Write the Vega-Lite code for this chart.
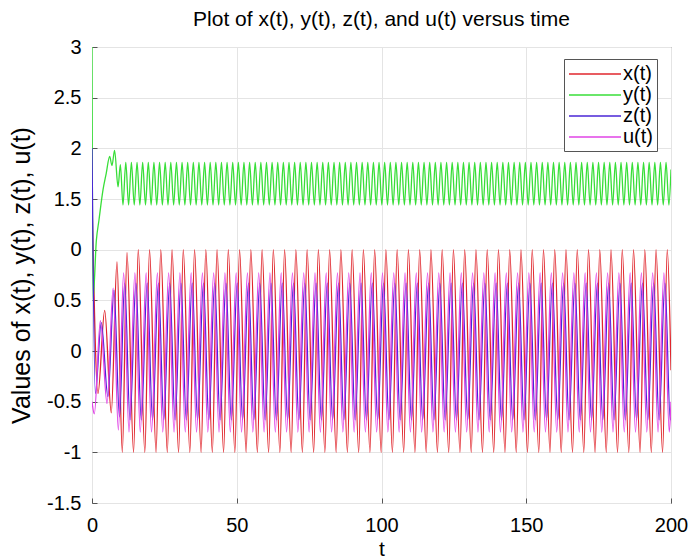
{
  "$schema": "https://vega.github.io/schema/vega-lite/v6.json",
  "width": 579,
  "height": 456,
  "autosize": {"type": "none"},
  "padding": {"left": 92, "top": 47, "right": 17, "bottom": 55},
  "background": "white",
  "config": {"font": "Liberation Sans", "view": {"stroke": "#555555", "strokeWidth": 1}},
  "title": {"text": "Plot of x(t), y(t), z(t), and u(t) versus time", "fontSize": 21, "fontWeight": "normal", "color": "#000000", "offset": 7, "anchor": "middle"},
  "datasets": {
    "xs": [{"t":0,"v":1.5},{"t":2.07,"v":-0.42},{"t":4.38,"v":0.4},{"t":6.66,"v":-0.61},{"t":8.63,"v":0.88},
      {"t":10.47,"v":-1},{"t":12.09,"v":0.97},{"t":14.36,"v":-1},{"t":15.98,"v":1},{"t":18.25,"v":-1},{"t":19.87,"v":1},{"t":22.13,"v":-1},{"t":23.75,"v":1},{"t":26.02,"v":-1},{"t":27.64,"v":1},{"t":29.91,"v":-1},{"t":31.53,"v":1},{"t":33.8,"v":-1},{"t":35.42,"v":1},{"t":37.69,"v":-1},{"t":39.31,"v":1},{"t":41.57,"v":-1},{"t":43.19,"v":1},{"t":45.46,"v":-1},{"t":47.08,"v":1},{"t":49.35,"v":-1},{"t":50.97,"v":1},{"t":53.24,"v":-1},{"t":54.86,"v":1},{"t":57.13,"v":-1},{"t":58.75,"v":1},{"t":61.01,"v":-1},{"t":62.63,"v":1},{"t":64.9,"v":-1},{"t":66.52,"v":1},{"t":68.79,"v":-1},{"t":70.41,"v":1},{"t":72.68,"v":-1},{"t":74.3,"v":1},{"t":76.57,"v":-1},{"t":78.19,"v":1},{"t":80.45,"v":-1},{"t":82.07,"v":1},{"t":84.34,"v":-1},{"t":85.96,"v":1},{"t":88.23,"v":-1},{"t":89.85,"v":1},{"t":92.12,"v":-1},{"t":93.74,"v":1},{"t":96.01,"v":-1},{"t":97.63,"v":1},{"t":99.89,"v":-1},{"t":101.51,"v":1},{"t":103.78,"v":-1},{"t":105.4,"v":1},{"t":107.67,"v":-1},{"t":109.29,"v":1},{"t":111.56,"v":-1},{"t":113.18,"v":1},{"t":115.45,"v":-1},{"t":117.07,"v":1},{"t":119.33,"v":-1},{"t":120.95,"v":1},{"t":123.22,"v":-1},{"t":124.84,"v":1},{"t":127.11,"v":-1},{"t":128.73,"v":1},{"t":131.0,"v":-1},{"t":132.62,"v":1},{"t":134.89,"v":-1},{"t":136.51,"v":1},{"t":138.77,"v":-1},{"t":140.39,"v":1},{"t":142.66,"v":-1},{"t":144.28,"v":1},{"t":146.55,"v":-1},{"t":148.17,"v":1},{"t":150.44,"v":-1},{"t":152.06,"v":1},{"t":154.33,"v":-1},{"t":155.95,"v":1},{"t":158.21,"v":-1},{"t":159.83,"v":1},{"t":162.1,"v":-1},{"t":163.72,"v":1},{"t":165.99,"v":-1},{"t":167.61,"v":1},{"t":169.88,"v":-1},{"t":171.5,"v":1},{"t":173.77,"v":-1},{"t":175.39,"v":1},{"t":177.65,"v":-1},{"t":179.27,"v":1},{"t":181.54,"v":-1},{"t":183.16,"v":1},{"t":185.43,"v":-1},{"t":187.05,"v":1},{"t":189.32,"v":-1},{"t":190.94,"v":1},{"t":193.21,"v":-1},{"t":194.83,"v":1},{"t":197.09,"v":-1},{"t":198.71,"v":1},{"t":200,"v":-0.19}],
    "ys": [{"t":0,"v":3},{"t":0.35,"v":0.5},{"t":1.5,"v":1.09},{"t":2.4,"v":1.29},{"t":3.8,"v":1.59},{"t":4.9,"v":1.75},{"t":6.1,"v":1.92},{"t":6.9,"v":1.83},{"t":7.8,"v":1.98},{"t":9.0,"v":1.62},{"t":9.8,"v":1.84},
      {"t":10.7,"v":1.44},{"t":11.67,"v":1.86},{"t":12.64,"v":1.44},{"t":13.61,"v":1.86},{"t":14.59,"v":1.44},{"t":15.56,"v":1.86},{"t":16.53,"v":1.44},{"t":17.5,"v":1.86},{"t":18.48,"v":1.44},{"t":19.45,"v":1.86},{"t":20.42,"v":1.44},{"t":21.39,"v":1.86},{"t":22.36,"v":1.44},{"t":23.33,"v":1.86},{"t":24.31,"v":1.44},{"t":25.28,"v":1.86},{"t":26.25,"v":1.44},{"t":27.22,"v":1.86},{"t":28.2,"v":1.44},{"t":29.17,"v":1.86},{"t":30.14,"v":1.44},{"t":31.11,"v":1.86},{"t":32.08,"v":1.44},{"t":33.05,"v":1.86},{"t":34.03,"v":1.44},{"t":35.0,"v":1.86},{"t":35.97,"v":1.44},{"t":36.94,"v":1.86},{"t":37.92,"v":1.44},{"t":38.89,"v":1.86},{"t":39.86,"v":1.44},{"t":40.83,"v":1.86},{"t":41.8,"v":1.44},{"t":42.77,"v":1.86},{"t":43.75,"v":1.44},{"t":44.72,"v":1.86},{"t":45.69,"v":1.44},{"t":46.66,"v":1.86},{"t":47.64,"v":1.44},{"t":48.61,"v":1.86},{"t":49.58,"v":1.44},{"t":50.55,"v":1.86},{"t":51.52,"v":1.44},{"t":52.49,"v":1.86},{"t":53.47,"v":1.44},{"t":54.44,"v":1.86},{"t":55.41,"v":1.44},{"t":56.38,"v":1.86},{"t":57.36,"v":1.44},{"t":58.33,"v":1.86},{"t":59.3,"v":1.44},{"t":60.27,"v":1.86},{"t":61.24,"v":1.44},{"t":62.21,"v":1.86},{"t":63.19,"v":1.44},{"t":64.16,"v":1.86},{"t":65.13,"v":1.44},{"t":66.1,"v":1.86},{"t":67.08,"v":1.44},{"t":68.05,"v":1.86},{"t":69.02,"v":1.44},{"t":69.99,"v":1.86},{"t":70.96,"v":1.44},{"t":71.93,"v":1.86},{"t":72.91,"v":1.44},{"t":73.88,"v":1.86},{"t":74.85,"v":1.44},{"t":75.82,"v":1.86},{"t":76.8,"v":1.44},{"t":77.77,"v":1.86},{"t":78.74,"v":1.44},{"t":79.71,"v":1.86},{"t":80.68,"v":1.44},{"t":81.65,"v":1.86},{"t":82.63,"v":1.44},{"t":83.6,"v":1.86},{"t":84.57,"v":1.44},{"t":85.54,"v":1.86},{"t":86.52,"v":1.44},{"t":87.49,"v":1.86},{"t":88.46,"v":1.44},{"t":89.43,"v":1.86},{"t":90.4,"v":1.44},{"t":91.37,"v":1.86},{"t":92.35,"v":1.44},{"t":93.32,"v":1.86},{"t":94.29,"v":1.44},{"t":95.26,"v":1.86},{"t":96.24,"v":1.44},{"t":97.21,"v":1.86},{"t":98.18,"v":1.44},{"t":99.15,"v":1.86},{"t":100.12,"v":1.44},{"t":101.09,"v":1.86},{"t":102.07,"v":1.44},{"t":103.04,"v":1.86},{"t":104.01,"v":1.44},{"t":104.98,"v":1.86},{"t":105.96,"v":1.44},{"t":106.93,"v":1.86},{"t":107.9,"v":1.44},{"t":108.87,"v":1.86},{"t":109.84,"v":1.44},{"t":110.81,"v":1.86},{"t":111.79,"v":1.44},{"t":112.76,"v":1.86},{"t":113.73,"v":1.44},{"t":114.7,"v":1.86},{"t":115.68,"v":1.44},{"t":116.65,"v":1.86},{"t":117.62,"v":1.44},{"t":118.59,"v":1.86},{"t":119.56,"v":1.44},{"t":120.53,"v":1.86},{"t":121.51,"v":1.44},{"t":122.48,"v":1.86},{"t":123.45,"v":1.44},{"t":124.42,"v":1.86},{"t":125.4,"v":1.44},{"t":126.37,"v":1.86},{"t":127.34,"v":1.44},{"t":128.31,"v":1.86},{"t":129.28,"v":1.44},{"t":130.25,"v":1.86},{"t":131.23,"v":1.44},{"t":132.2,"v":1.86},{"t":133.17,"v":1.44},{"t":134.14,"v":1.86},{"t":135.12,"v":1.44},{"t":136.09,"v":1.86},{"t":137.06,"v":1.44},{"t":138.03,"v":1.86},{"t":139.0,"v":1.44},{"t":139.97,"v":1.86},{"t":140.95,"v":1.44},{"t":141.92,"v":1.86},{"t":142.89,"v":1.44},{"t":143.86,"v":1.86},{"t":144.84,"v":1.44},{"t":145.81,"v":1.86},{"t":146.78,"v":1.44},{"t":147.75,"v":1.86},{"t":148.72,"v":1.44},{"t":149.69,"v":1.86},{"t":150.67,"v":1.44},{"t":151.64,"v":1.86},{"t":152.61,"v":1.44},{"t":153.58,"v":1.86},{"t":154.56,"v":1.44},{"t":155.53,"v":1.86},{"t":156.5,"v":1.44},{"t":157.47,"v":1.86},{"t":158.44,"v":1.44},{"t":159.41,"v":1.86},{"t":160.39,"v":1.44},{"t":161.36,"v":1.86},{"t":162.33,"v":1.44},{"t":163.3,"v":1.86},{"t":164.28,"v":1.44},{"t":165.25,"v":1.86},{"t":166.22,"v":1.44},{"t":167.19,"v":1.86},{"t":168.16,"v":1.44},{"t":169.13,"v":1.86},{"t":170.11,"v":1.44},{"t":171.08,"v":1.86},{"t":172.05,"v":1.44},{"t":173.02,"v":1.86},{"t":174.0,"v":1.44},{"t":174.97,"v":1.86},{"t":175.94,"v":1.44},{"t":176.91,"v":1.86},{"t":177.88,"v":1.44},{"t":178.85,"v":1.86},{"t":179.83,"v":1.44},{"t":180.8,"v":1.86},{"t":181.77,"v":1.44},{"t":182.74,"v":1.86},{"t":183.72,"v":1.44},{"t":184.69,"v":1.86},{"t":185.66,"v":1.44},{"t":186.63,"v":1.86},{"t":187.6,"v":1.44},{"t":188.57,"v":1.86},{"t":189.55,"v":1.44},{"t":190.52,"v":1.86},{"t":191.49,"v":1.44},{"t":192.46,"v":1.86},{"t":193.44,"v":1.44},{"t":194.41,"v":1.86},{"t":195.38,"v":1.44},{"t":196.35,"v":1.86},{"t":197.32,"v":1.44},{"t":198.29,"v":1.86},{"t":199.27,"v":1.44},{"t":200,"v":1.79}],
    "zs": [{"t":0,"v":2.0},{"t":1.15,"v":-0.42},{"t":3.2,"v":0.28},{"t":5.5,"v":-0.45},{"t":7.6,"v":0.6},{"t":9.5,"v":-0.65},
      {"t":11.28,"v":0.67},{"t":13.13,"v":-0.68},{"t":15.17,"v":0.67},{"t":17.02,"v":-0.68},{"t":19.06,"v":0.67},{"t":20.91,"v":-0.68},{"t":22.94,"v":0.67},{"t":24.79,"v":-0.68},{"t":26.83,"v":0.67},{"t":28.68,"v":-0.68},{"t":30.72,"v":0.67},{"t":32.57,"v":-0.68},{"t":34.61,"v":0.67},{"t":36.46,"v":-0.68},{"t":38.5,"v":0.67},{"t":40.35,"v":-0.68},{"t":42.38,"v":0.67},{"t":44.23,"v":-0.68},{"t":46.27,"v":0.67},{"t":48.12,"v":-0.68},{"t":50.16,"v":0.67},{"t":52.01,"v":-0.68},{"t":54.05,"v":0.67},{"t":55.9,"v":-0.68},{"t":57.94,"v":0.67},{"t":59.79,"v":-0.68},{"t":61.82,"v":0.67},{"t":63.67,"v":-0.68},{"t":65.71,"v":0.67},{"t":67.56,"v":-0.68},{"t":69.6,"v":0.67},{"t":71.45,"v":-0.68},{"t":73.49,"v":0.67},{"t":75.34,"v":-0.68},{"t":77.38,"v":0.67},{"t":79.23,"v":-0.68},{"t":81.26,"v":0.67},{"t":83.11,"v":-0.68},{"t":85.15,"v":0.67},{"t":87.0,"v":-0.68},{"t":89.04,"v":0.67},{"t":90.89,"v":-0.68},{"t":92.93,"v":0.67},{"t":94.78,"v":-0.68},{"t":96.82,"v":0.67},{"t":98.67,"v":-0.68},{"t":100.7,"v":0.67},{"t":102.55,"v":-0.68},{"t":104.59,"v":0.67},{"t":106.44,"v":-0.68},{"t":108.48,"v":0.67},{"t":110.33,"v":-0.68},{"t":112.37,"v":0.67},{"t":114.22,"v":-0.68},{"t":116.26,"v":0.67},{"t":118.11,"v":-0.68},{"t":120.14,"v":0.67},{"t":121.99,"v":-0.68},{"t":124.03,"v":0.67},{"t":125.88,"v":-0.68},{"t":127.92,"v":0.67},{"t":129.77,"v":-0.68},{"t":131.81,"v":0.67},{"t":133.66,"v":-0.68},{"t":135.7,"v":0.67},{"t":137.55,"v":-0.68},{"t":139.58,"v":0.67},{"t":141.43,"v":-0.68},{"t":143.47,"v":0.67},{"t":145.32,"v":-0.68},{"t":147.36,"v":0.67},{"t":149.21,"v":-0.68},{"t":151.25,"v":0.67},{"t":153.1,"v":-0.68},{"t":155.14,"v":0.67},{"t":156.99,"v":-0.68},{"t":159.02,"v":0.67},{"t":160.87,"v":-0.68},{"t":162.91,"v":0.67},{"t":164.76,"v":-0.68},{"t":166.8,"v":0.67},{"t":168.65,"v":-0.68},{"t":170.69,"v":0.67},{"t":172.54,"v":-0.68},{"t":174.58,"v":0.67},{"t":176.43,"v":-0.68},{"t":178.46,"v":0.67},{"t":180.31,"v":-0.68},{"t":182.35,"v":0.67},{"t":184.2,"v":-0.68},{"t":186.24,"v":0.67},{"t":188.09,"v":-0.68},{"t":190.13,"v":0.67},{"t":191.98,"v":-0.68},{"t":194.02,"v":0.67},{"t":195.87,"v":-0.68},{"t":197.9,"v":0.67},{"t":199.75,"v":-0.68},{"t":200,"v":-0.63}],
    "us": [{"t":0,"v":-0.5},{"t":0.8,"v":-0.62},{"t":2.9,"v":0.3},{"t":5.2,"v":-0.52},{"t":7.3,"v":0.62},{"t":9.1,"v":-0.78},
      {"t":10.93,"v":0.77},{"t":12.78,"v":-0.8},{"t":14.82,"v":0.77},{"t":16.67,"v":-0.8},{"t":18.71,"v":0.77},{"t":20.56,"v":-0.8},{"t":22.59,"v":0.77},{"t":24.44,"v":-0.8},{"t":26.48,"v":0.77},{"t":28.33,"v":-0.8},{"t":30.37,"v":0.77},{"t":32.22,"v":-0.8},{"t":34.26,"v":0.77},{"t":36.11,"v":-0.8},{"t":38.15,"v":0.77},{"t":40.0,"v":-0.8},{"t":42.03,"v":0.77},{"t":43.88,"v":-0.8},{"t":45.92,"v":0.77},{"t":47.77,"v":-0.8},{"t":49.81,"v":0.77},{"t":51.66,"v":-0.8},{"t":53.7,"v":0.77},{"t":55.55,"v":-0.8},{"t":57.59,"v":0.77},{"t":59.44,"v":-0.8},{"t":61.47,"v":0.77},{"t":63.32,"v":-0.8},{"t":65.36,"v":0.77},{"t":67.21,"v":-0.8},{"t":69.25,"v":0.77},{"t":71.1,"v":-0.8},{"t":73.14,"v":0.77},{"t":74.99,"v":-0.8},{"t":77.03,"v":0.77},{"t":78.88,"v":-0.8},{"t":80.91,"v":0.77},{"t":82.76,"v":-0.8},{"t":84.8,"v":0.77},{"t":86.65,"v":-0.8},{"t":88.69,"v":0.77},{"t":90.54,"v":-0.8},{"t":92.58,"v":0.77},{"t":94.43,"v":-0.8},{"t":96.47,"v":0.77},{"t":98.32,"v":-0.8},{"t":100.35,"v":0.77},{"t":102.2,"v":-0.8},{"t":104.24,"v":0.77},{"t":106.09,"v":-0.8},{"t":108.13,"v":0.77},{"t":109.98,"v":-0.8},{"t":112.02,"v":0.77},{"t":113.87,"v":-0.8},{"t":115.91,"v":0.77},{"t":117.76,"v":-0.8},{"t":119.79,"v":0.77},{"t":121.64,"v":-0.8},{"t":123.68,"v":0.77},{"t":125.53,"v":-0.8},{"t":127.57,"v":0.77},{"t":129.42,"v":-0.8},{"t":131.46,"v":0.77},{"t":133.31,"v":-0.8},{"t":135.35,"v":0.77},{"t":137.2,"v":-0.8},{"t":139.23,"v":0.77},{"t":141.08,"v":-0.8},{"t":143.12,"v":0.77},{"t":144.97,"v":-0.8},{"t":147.01,"v":0.77},{"t":148.86,"v":-0.8},{"t":150.9,"v":0.77},{"t":152.75,"v":-0.8},{"t":154.79,"v":0.77},{"t":156.64,"v":-0.8},{"t":158.67,"v":0.77},{"t":160.52,"v":-0.8},{"t":162.56,"v":0.77},{"t":164.41,"v":-0.8},{"t":166.45,"v":0.77},{"t":168.3,"v":-0.8},{"t":170.34,"v":0.77},{"t":172.19,"v":-0.8},{"t":174.23,"v":0.77},{"t":176.08,"v":-0.8},{"t":178.11,"v":0.77},{"t":179.96,"v":-0.8},{"t":182.0,"v":0.77},{"t":183.85,"v":-0.8},{"t":185.89,"v":0.77},{"t":187.74,"v":-0.8},{"t":189.78,"v":0.77},{"t":191.63,"v":-0.8},{"t":193.67,"v":0.77},{"t":195.52,"v":-0.8},{"t":197.55,"v":0.77},{"t":199.4,"v":-0.8},{"t":200,"v":-0.5}]
  },
  "encoding": {
    "x": {"field": "t", "type": "quantitative", "scale": {"domain": [0, 200], "nice": false},
      "axis": {"values": [0, 50, 100, 150, 200], "labelExpr": "'' + datum.value", "title": "t", "titleFontSize": 21, "titleFontWeight": "normal", "titleColor": "#000000", "titlePadding": 3, "labelFontSize": 20, "labelColor": "#000000", "labelPadding": 17, "labelFlush": false, "tickSize": -5, "tickColor": "#555555", "grid": true, "gridColor": "#e4e4e4", "domain": false}},
    "y": {"field": "v", "type": "quantitative", "scale": {"domain": [-1.5, 3], "nice": false, "zero": false},
      "axis": {"values": [-1.5, -1, -0.5, 0, 0.5, 1, 1.5, 2, 2.5, 3], "labelExpr": "datum.value == 1 ? '0' : '' + datum.value", "title": "Values of x(t), y(t), z(t), u(t)", "titleFontSize": 25, "titleFontWeight": "normal", "titleColor": "#000000", "titlePadding": 12, "labelFontSize": 20, "labelColor": "#000000", "labelPadding": 16, "labelFlush": false, "labelOverlap": false, "tickSize": -5, "tickColor": "#555555", "grid": true, "gridColor": "#e4e4e4", "domain": false}}
  },
  "layer": [
    {"data": {"name": "xs"}, "mark": {"type": "line", "interpolate": "monotone", "strokeWidth": 1.3, "clip": true},
      "encoding": {"color": {"datum": "x(t)", "type": "nominal",
        "scale": {"domain": ["x(t)", "y(t)", "z(t)", "u(t)"], "range": ["#e0262c", "#38de38", "#4a26d6", "#e044e6"]},
        "legend": {"orient": "none", "legendX": 472, "legendY": 12, "title": null, "symbolType": "M-1,0H4.2", "symbolSize": 400, "symbolStrokeWidth": 1.3, "labelFontSize": 20, "labelColor": "#000000", "labelOffset": 33, "strokeColor": "#555555", "fillColor": "#ffffff", "padding": 4, "rowPadding": 0}}}},
    {"data": {"name": "ys"}, "mark": {"type": "line", "interpolate": "monotone", "strokeWidth": 1.3, "clip": true},
      "encoding": {"color": {"datum": "y(t)", "type": "nominal"}}},
    {"data": {"name": "zs"}, "mark": {"type": "line", "interpolate": "monotone", "strokeWidth": 1.3, "clip": true},
      "encoding": {"color": {"datum": "z(t)", "type": "nominal"}}},
    {"data": {"name": "us"}, "mark": {"type": "line", "interpolate": "monotone", "strokeWidth": 1.3, "clip": true},
      "encoding": {"color": {"datum": "u(t)", "type": "nominal"}}}
  ]
}
